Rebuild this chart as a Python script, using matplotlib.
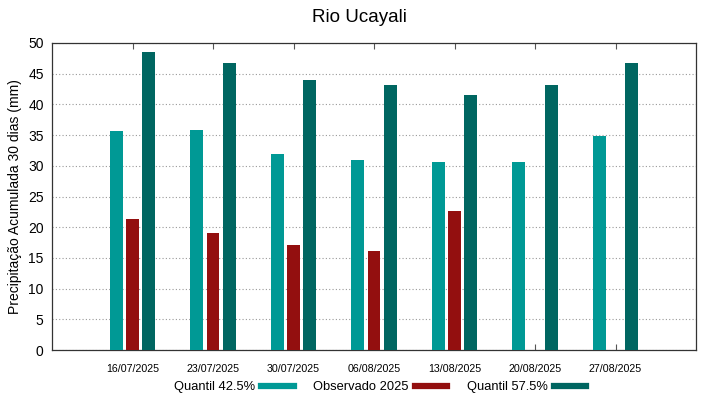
import numpy as np
import matplotlib.pyplot as plt
from matplotlib.lines import Line2D

plt.rcParams['font.family'] = ['Liberation Sans', 'DejaVu Sans']

# Data
datas = ['16/07/2025', '23/07/2025', '30/07/2025', '06/08/2025',
         '13/08/2025', '20/08/2025', '27/08/2025']
q425 = [35.7, 35.9, 32.0, 30.9, 30.6, 30.6, 34.8]
obs2025 = [21.4, 19.0, 17.1, 16.2, 22.6]
q575 = [48.5, 46.8, 43.9, 43.1, 41.6, 43.2, 46.7]

c_q425 = '#009995'
c_obs = '#930f0f'
c_q575 = '#006661'

fig = plt.figure(figsize=(7.19, 3.99), dpi=100)
ax = fig.add_axes([52 / 719, 49 / 399, 644 / 719, 307 / 399])

x = np.arange(1, len(datas) + 1)
w = 0.16
ax.bar(x - 0.2, q425, width=w, color=c_q425, zorder=3)
ax.bar(x[:len(obs2025)], obs2025, width=w, color=c_obs, zorder=3)
ax.bar(x + 0.2, q575, width=w, color=c_q575, zorder=3)

ax.set_xlim(0, 8)
ax.set_ylim(0, 50)
ax.set_yticks(range(0, 51, 5))
ax.set_xticks(x)
ax.set_xticklabels(datas, fontsize=7.7)
ax.tick_params(axis='x', direction='in', length=4, top=True, pad=10, color='#555555')
ax.tick_params(axis='y', length=0, labelsize=10, pad=6)
ax.yaxis.grid(True, linestyle=(0, (1, 2)), color='#999999', linewidth=0.8)
for s in ax.spines.values():
    s.set_color('#333333')
    s.set_linewidth(0.9)

ax.set_ylabel('Precipitação Acumulada 30 dias (mm)', fontsize=10)
fig.suptitle('Rio Ucayali', fontsize=13.5, y=0.978)

handles = [Line2D([], [], color=c, linewidth=4.5) for c in (c_q425, c_obs, c_q575)]
fig.legend(handles, ['Quantil 42.5%', 'Observado 2025', 'Quantil 57.5%'],
           loc='center', bbox_to_anchor=(380 / 719, 1 - 387 / 399), ncol=3, frameon=False,
           markerfirst=False, handlelength=2.5, handletextpad=0.5, columnspacing=1.5,
           fontsize=9.3)

fig.savefig('out.png', dpi=100)
